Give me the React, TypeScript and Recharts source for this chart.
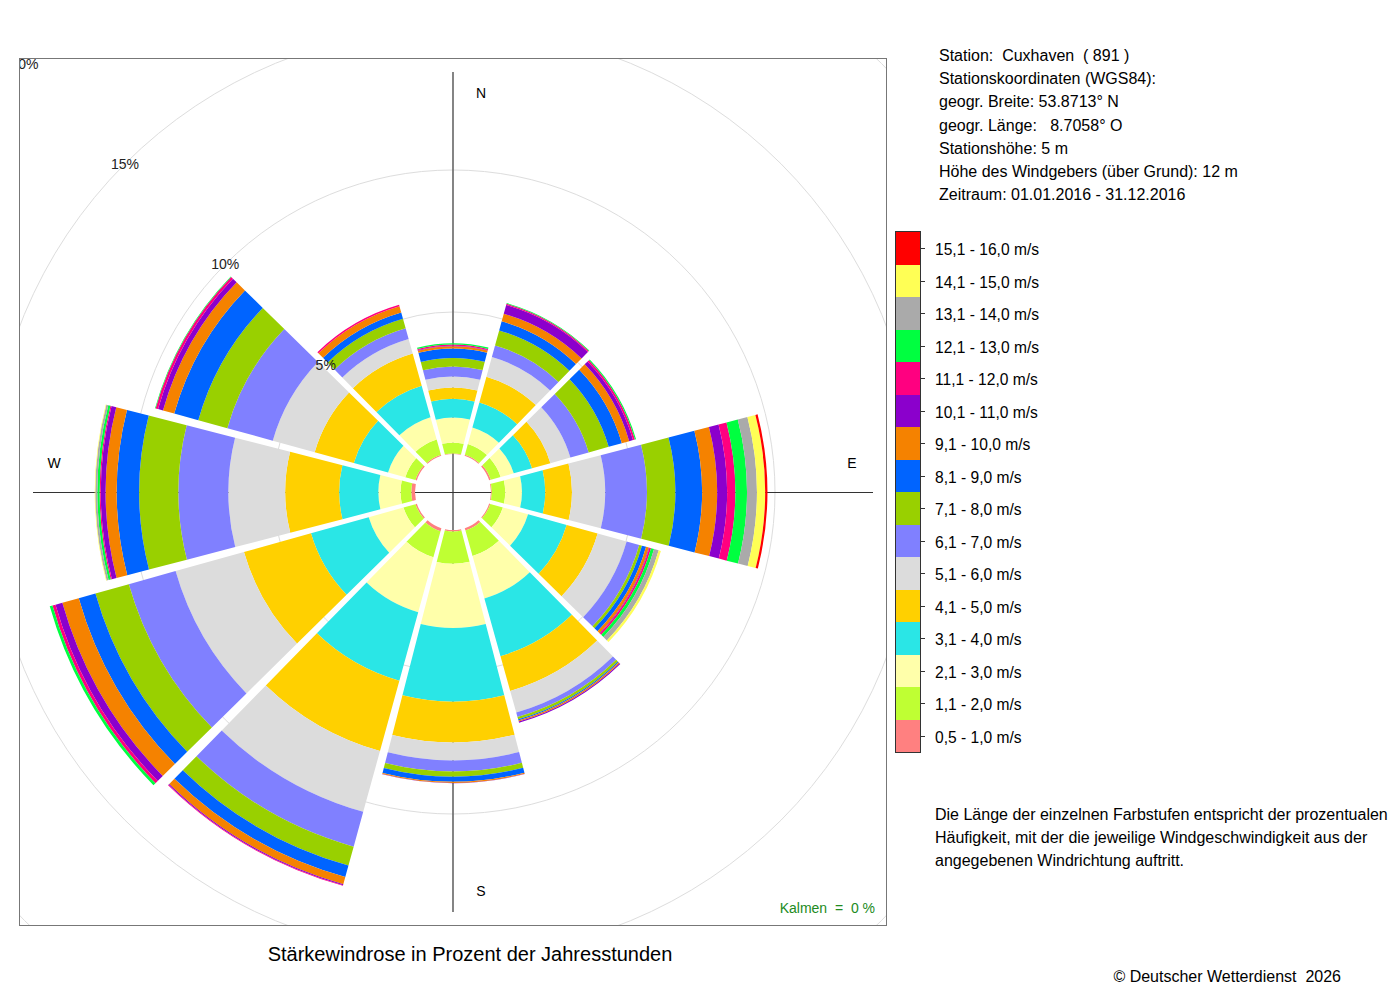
import { RadialBarChart, RadialBar, PolarGrid, PolarAngleAxis, PolarRadiusAxis } from "recharts";

// wind directions (sector centres, degrees clockwise from north)
const directions = ["0", "30", "60", "90", "120", "150", "180", "210", "240", "270", "300", "330"];

// speed classes, innermost first
const speedLabels = [
  "0,5 - 1,0 m/s", "1,1 - 2,0 m/s", "2,1 - 3,0 m/s", "3,1 - 4,0 m/s",
  "4,1 - 5,0 m/s", "5,1 - 6,0 m/s", "6,1 - 7,0 m/s", "7,1 - 8,0 m/s",
  "8,1 - 9,0 m/s", "9,1 - 10,0 m/s", "10,1 - 11,0 m/s", "11,1 - 12,0 m/s",
  "12,1 - 13,0 m/s", "13,1 - 14,0 m/s", "14,1 - 15,0 m/s", "15,1 - 16,0 m/s",
];
const speedColors = [
  "#ff8080", "#bfff33", "#ffffaa", "#2ae6e6",
  "#ffd000", "#dcdcdc", "#8080ff", "#99d000",
  "#0064ff", "#f58200", "#8b00cc", "#ff0080",
  "#00ff40", "#aaaaaa", "#ffff55", "#ff0000",
];

// percent of year hours per speed class, one list per direction
const dir000 = [0.02, 0.38, 0.88, 0.66, 0.40, 0.39, 0.35, 0.30, 0.33, 0.08, 0.02, 0.04, 0.05, 0, 0, 0];
const dir030 = [0.04, 0.39, 0.60, 0.92, 0.94, 0.72, 0.42, 0.55, 0.33, 0.28, 0.32, 0.04, 0.03, 0, 0, 0];
const dir060 = [0.06, 0.36, 0.48, 0.67, 0.67, 0.73, 0.67, 0.73, 0.48, 0.27, 0.14, 0.07, 0.04, 0, 0, 0];
const dir090 = [0.03, 0.47, 0.59, 0.82, 0.94, 1.17, 1.47, 1.00, 0.94, 0.53, 0.35, 0.29, 0.41, 0.35, 0.29, 0.08];
const dir120 = [0.04, 0.46, 0.92, 1.41, 1.13, 1.06, 0.46, 0.10, 0.15, 0.10, 0.02, 0.06, 0.11, 0.17, 0.08, 0];
const dir150 = [0.09, 0.93, 1.55, 2.11, 1.27, 0.79, 0.16, 0.09, 0.04, 0.04, 0.04, 0, 0, 0, 0, 0];
const dir180 = [0.05, 1.14, 2.26, 2.59, 1.44, 0.63, 0.39, 0.18, 0.18, 0.04, 0.01, 0, 0, 0, 0, 0];
const dir210 = [0.11, 0.95, 2.01, 2.50, 2.57, 2.22, 1.27, 0.69, 0.42, 0.26, 0.04, 0.02, 0, 0, 0, 0];
const dir240 = [0.05, 0.44, 1.27, 2.11, 2.45, 2.50, 1.71, 1.22, 0.61, 0.60, 0.25, 0.11, 0.10, 0, 0, 0];
const dir270 = [0.13, 0.38, 0.78, 1.38, 1.90, 2.00, 1.76, 1.38, 0.79, 0.39, 0.17, 0.04, 0.08, 0.07, 0.02, 0];
const dir300 = [0.05, 0.37, 0.63, 1.25, 1.43, 1.53, 1.66, 1.06, 0.88, 0.41, 0.18, 0.09, 0.02, 0, 0, 0];
const dir330 = [0.04, 0.56, 0.81, 1.15, 1.18, 0.53, 0.39, 0.35, 0.23, 0.23, 0, 0.05, 0, 0, 0, 0];

const radiusTicks = [5, 10, 15, 20];

const compassLabels = [
  { text: "N", angle: 0 },
  { text: "E", angle: 90 },
  { text: "S", angle: 180 },
  { text: "W", angle: 270 },
];

const stationLines = [
  "Station:  Cuxhaven  ( 891 )",
  "Stationskoordinaten (WGS84):",
  "geogr. Breite: 53.8713° N",
  "geogr. Länge:   8.7058° O",
  "Stationshöhe: 5 m",
  "Höhe des Windgebers (über Grund): 12 m",
  "Zeitraum: 01.01.2016 - 31.12.2016",
];

const noteLines = [
  "Die Länge der einzelnen Farbstufen entspricht der prozentualen",
  "Häufigkeit, mit der die jeweilige Windgeschwindigkeit aus der",
  "angegebenen Windrichtung auftritt.",
];

const byDirection = [dir000, dir030, dir060, dir090, dir120, dir150, dir180, dir210, dir240, dir270, dir300, dir330];

const rows = directions.map((dir, d) => {
  const row: Record<string, any> = { dir };
  byDirection[d].forEach((v, i) => (row[`s${i}`] = v));
  return row;
});

const FONT = "'Liberation Sans', Arial, Helvetica, sans-serif";
const SIZE = 866;
const CX = 433;
const CY = 433;
const HALF_GAP = 1.6; // px, straight white gap between sectors
const RAD = Math.PI / 180;

function polar(cx: number, cy: number, r: number, a: number) {
  return `${cx + r * Math.cos(-a * RAD)},${cy + r * Math.sin(-a * RAD)}`;
}

// sector with parallel-sided gaps like the DWD plot
function GapSector(props: any) {
  const { cx, cy, innerRadius: ri, outerRadius: ro, startAngle, endAngle, fill } = props;
  if (!(ro - ri > 0.05)) return <g />;
  const a0 = Math.min(startAngle, endAngle);
  const a1 = Math.max(startAngle, endAngle);
  const dIn = Math.asin(Math.min(1, HALF_GAP / ri)) / RAD;
  const dOut = Math.asin(Math.min(1, HALF_GAP / ro)) / RAD;
  const d =
    `M${polar(cx, cy, ri, a0 + dIn)} L${polar(cx, cy, ro, a0 + dOut)} ` +
    `A${ro},${ro} 0 0 0 ${polar(cx, cy, ro, a1 - dOut)} L${polar(cx, cy, ri, a1 - dIn)} ` +
    `A${ri},${ri} 0 0 1 ${polar(cx, cy, ri, a0 + dIn)} Z`;
  return <path d={d} fill={fill} />;
}

function RadiusTick({ x, y, payload }: any) {
  return (
    <text x={x} y={y} textAnchor="middle" dominantBaseline="central" fontSize={14} fill="#222" fontFamily={FONT}>
      {payload.value}%
    </text>
  );
}

export default function App() {
  const crossLen = 420;
  const labelR = 399;
  return (
    <div style={{ position: "absolute", left: 0, top: 0, width: 1400, height: 1000, background: "#fff", fontFamily: FONT, color: "#000" }}>
      <div style={{ position: "absolute", left: 19, top: 58, width: SIZE, height: SIZE, border: "1px solid #777", overflow: "hidden" }}>
        <RadialBarChart
          width={SIZE}
          height={SIZE}
          cx={CX}
          cy={CY}
          data={rows}
          layout="centric"
          startAngle={75}
          endAngle={-285}
          innerRadius={38}
          outerRadius={606}
          barCategoryGap="2%"
          margin={{ top: 0, right: 0, bottom: 0, left: 0 }}
        >
          <PolarGrid gridType="circle" radialLines={false} stroke="#dddddd" />
          <PolarAngleAxis dataKey="dir" type="category" tick={false} axisLine={false} tickLine={false} />
          <line x1={CX} y1={CY - crossLen} x2={CX} y2={CY + crossLen} stroke="#666" strokeWidth={1.6} />
          <line x1={CX - crossLen} y1={CY + 0.5} x2={CX + crossLen} y2={CY + 0.5} stroke="#333" strokeWidth={1} />
          {speedLabels.map((label, i) => (
            <RadialBar
              key={label}
              dataKey={`s${i}`}
              name={label}
              stackId="wind"
              fill={speedColors[i]}
              shape={GapSector}
              isAnimationActive={false}
            />
          ))}
          <PolarRadiusAxis
            type="number"
            angle={135}
            domain={[0, 20]}
            ticks={radiusTicks}
            axisLine={false}
            tickLine={false}
            tick={<RadiusTick />}
          />
          {compassLabels.map((c) => {
            const vertical = c.angle % 180 === 0;
            const x = CX + labelR * Math.sin(c.angle * RAD) + (vertical ? 28 : 0);
            const y = CY - labelR * Math.cos(c.angle * RAD) - (vertical ? 0 : 29);
            return (
              <text key={c.text} x={x} y={y} textAnchor="middle" dominantBaseline="central" fontSize={14} fontFamily={FONT} fill="#000">
                {c.text}
              </text>
            );
          })}
        </RadialBarChart>
        <div style={{ position: "absolute", left: 655, width: 200, top: 841, fontSize: 14, color: "#228b22", textAlign: "right", whiteSpace: "pre" }}>
          Kalmen  =  0 %
        </div>
      </div>

      <div style={{ position: "absolute", left: 0, width: 940, top: 943, textAlign: "center", fontSize: 20 }}>
        Stärkewindrose in Prozent der Jahresstunden
      </div>

      <div style={{ position: "absolute", left: 939, top: 44, fontSize: 16, lineHeight: "23.2px", whiteSpace: "pre" }}>
        {stationLines.map((t) => (
          <div key={t}>{t}</div>
        ))}
      </div>

      <div style={{ position: "absolute", left: 895, top: 231, width: 24, border: "1px solid #333" }}>
        {speedColors
          .slice()
          .reverse()
          .map((c, i) => (
            <div key={i} style={{ height: 32.5, background: c }} />
          ))}
      </div>
      {speedLabels
        .slice()
        .reverse()
        .map((label, i) => (
          <div key={label}>
            <div style={{ position: "absolute", left: 921, top: 232 + i * 32.5 + 16, width: 4, height: 1, background: "#333" }} />
            <div style={{ position: "absolute", left: 935, top: 232 + i * 32.5 + 16.25 - 8, fontSize: 15.6, lineHeight: "20px", whiteSpace: "pre" }}>
              {label}
            </div>
          </div>
        ))}

      <div style={{ position: "absolute", left: 935, top: 803, fontSize: 16, lineHeight: "23px", whiteSpace: "pre" }}>
        {noteLines.map((t) => (
          <div key={t}>{t}</div>
        ))}
      </div>

      <div style={{ position: "absolute", right: 59, top: 968, fontSize: 16, whiteSpace: "pre" }}>
        © Deutscher Wetterdienst  2026
      </div>
    </div>
  );
}
